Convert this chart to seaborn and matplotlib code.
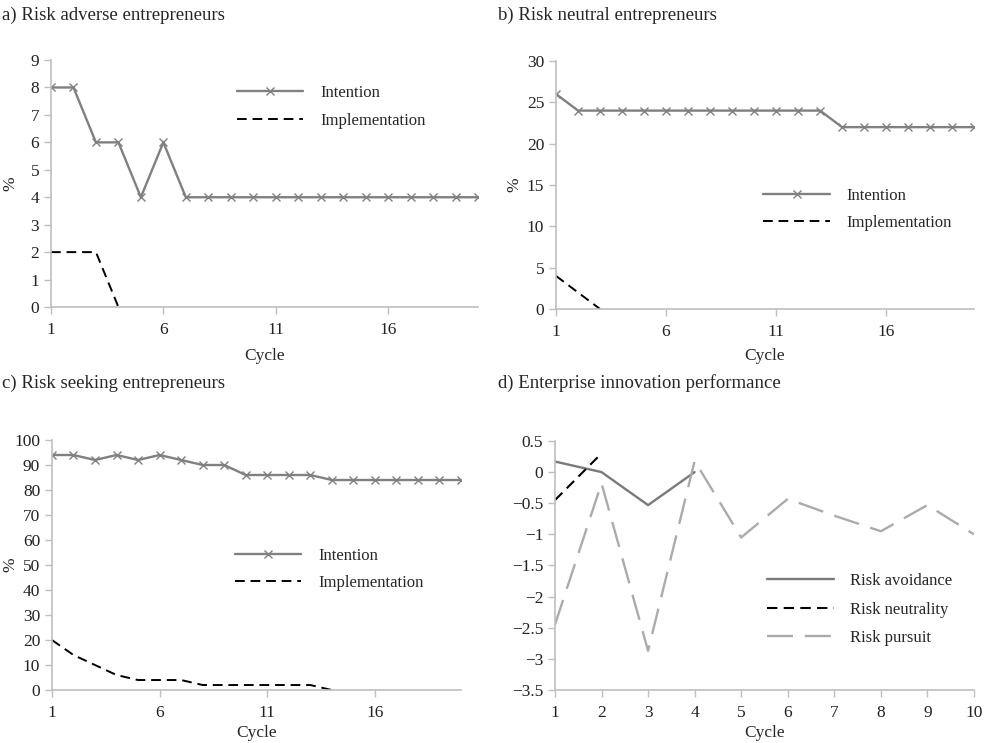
import numpy as np
import pandas as pd
import seaborn as sns
import matplotlib.pyplot as plt

# panel a) risk adverse
cyc20 = list(range(1, 21))
a_intention = [8, 8, 6, 6, 4, 6, 4, 4, 4, 4, 4, 4, 4, 4, 4, 4, 4, 4, 4, 4]
a_implement = [2, 2, 2, 0]

# panel b) risk neutral
b_intention = [26, 24, 24, 24, 24, 24, 24, 24, 24, 24, 24, 24, 24, 22, 22, 22, 22, 22, 22, 22]
b_implement = [4, 2, 0]

# panel c) risk seeking
c_intention = [94, 94, 92, 94, 92, 94, 92, 90, 90, 86, 86, 86, 86, 84, 84, 84, 84, 84, 84, 84]
c_implement = [20, 14, 10, 6, 4, 4, 4, 2, 2, 2, 2, 2, 2, 0]

# panel d) innovation performance
cyc10 = list(range(1, 11))
d_avoid = [0.17, 0.0, -0.53, 0.0]
d_neutral = [-0.45, 0.3]
d_pursuit = [-2.45, -0.18, -2.87, 0.18, -1.05, -0.43, -0.70, -0.95, -0.53, -1.0]

titles = ["a) Risk adverse entrepreneurs", "b) Risk neutral entrepreneurs",
          "c) Risk seeking entrepreneurs", "d) Enterprise innovation performance"]

sns.set_style("ticks")
plt.rcParams['font.family'] = ['Liberation Serif', 'DejaVu Serif']

fig = plt.figure(figsize=(9.88, 7.43), dpi=100)
ax_a = fig.add_axes([0.0516, 0.5868, 0.4322, 0.3324])
ax_b = fig.add_axes([0.5628, 0.5841, 0.4231, 0.3338])
ax_c = fig.add_axes([0.0526, 0.0713, 0.4140, 0.3365])
ax_d = fig.add_axes([0.5617, 0.0713, 0.4241, 0.3352])

grey = "#808080"
spine = "#bfbfbf"
fs = 12.5


def intention_panel(ax, inten, impl, ylim, yticks, legend_anchor):
    sns.lineplot(x=cyc20, y=inten, ax=ax, color=grey, lw=1.7, marker="x",
                 markersize=6, markeredgewidth=1.0, markeredgecolor=grey,
                 label="Intention")
    sns.lineplot(x=cyc20[:len(impl)], y=impl, ax=ax, color="black", lw=1.4,
                 linestyle=(0, (5, 3)), label="Implementation")
    ax.set_xlim(1, 20)
    ax.set_ylim(*ylim)
    ax.set_xticks([1, 6, 11, 16])
    ax.set_yticks(yticks)
    ax.set_ylabel("%", fontsize=fs)
    ax.set_xlabel("Cycle", fontsize=fs)
    ax.legend(loc="upper left", bbox_to_anchor=legend_anchor, frameon=False,
              fontsize=12, handlelength=4.0, handletextpad=1.0, labelspacing=0.7)


def style(ax):
    sns.despine(ax=ax)
    for s in ["left", "bottom"]:
        ax.spines[s].set_color(spine)
        ax.spines[s].set_linewidth(1.2)
    ax.tick_params(colors=spine, labelcolor="#222222", labelsize=fs,
                   length=5, width=1.0)
    ax.tick_params(axis="x", pad=5.5)


intention_panel(ax_a, a_intention, a_implement, (0, 9), range(0, 10), (0.40, 0.96))
intention_panel(ax_b, b_intention, b_implement, (0, 30), range(0, 31, 5), (0.46, 0.55))
intention_panel(ax_c, c_intention, c_implement, (0, 100), range(0, 101, 10), (0.41, 0.63))

sns.lineplot(x=cyc10[:len(d_avoid)], y=d_avoid, ax=ax_d, color="#7a7a7a", lw=1.7,
             label="Risk avoidance")
sns.lineplot(x=cyc10[:len(d_neutral)], y=d_neutral, ax=ax_d, color="black", lw=1.5,
             linestyle=(0, (5, 3)), label="Risk neutrality")
sns.lineplot(x=cyc10, y=d_pursuit, ax=ax_d, color="#ababab", lw=1.7,
             linestyle=(0, (11, 5)), label="Risk pursuit")
ax_d.set_xlim(1, 10)
ax_d.set_ylim(-3.5, 0.5)
ax_d.set_xticks(cyc10)
ax_d.set_yticks(np.arange(-3.5, 0.51, 0.5))
ax_d.set_yticklabels(["\u22123.5", "\u22123", "\u22122.5", "\u22122", "\u22121.5",
                      "\u22121", "\u22120.5", "0", "0.5"])
ax_d.set_xlabel("Cycle", fontsize=fs)
ax_d.set_ylabel("")
ax_d.legend(loc="upper left", bbox_to_anchor=(0.47, 0.53), frameon=False,
            fontsize=12, handlelength=4.0, handletextpad=1.0, labelspacing=0.75)

for ax in [ax_a, ax_b, ax_c, ax_d]:
    style(ax)

ax_a.yaxis.set_label_coords(-0.077, 0.5)
ax_b.yaxis.set_label_coords(-0.081, 0.5)
ax_c.yaxis.set_label_coords(-0.083, 0.5)
ax_a.xaxis.set_label_coords(0.5, -0.166)
ax_b.xaxis.set_label_coords(0.5, -0.157)
ax_c.xaxis.set_label_coords(0.5, -0.14)
ax_d.xaxis.set_label_coords(0.5, -0.14)

fig.text(2 / 988, 1 - 15 / 743, titles[0], fontsize=13.5, va="center", ha="left")
fig.text(498 / 988, 1 - 15 / 743, titles[1], fontsize=13.5, va="center", ha="left")
fig.text(2 / 988, 1 - 383 / 743, titles[2], fontsize=13.5, va="center", ha="left")
fig.text(498 / 988, 1 - 383 / 743, titles[3], fontsize=13.5, va="center", ha="left")

fig.savefig("out.png", dpi=100)
